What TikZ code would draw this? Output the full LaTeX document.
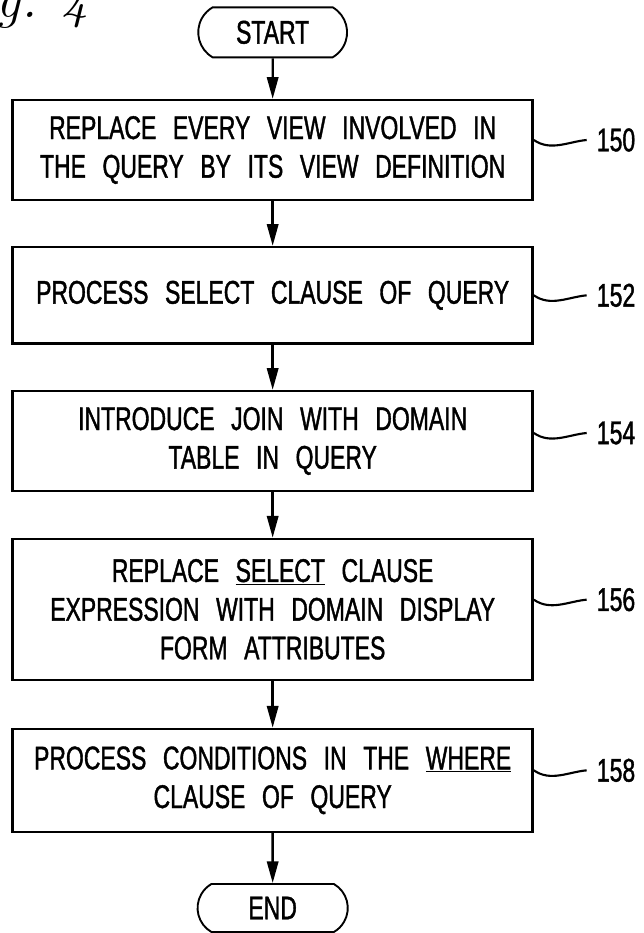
\documentclass[tikz,border=0pt]{standalone}
\usepackage{fontspec}
\newfontfamily\flowfam{Liberation Sans}[FakeStretch=0.7,FakeBold=1.2,WordSpace=2.6]
\newcommand{\flowfont}{\flowfam\fontsize{28}{33}\selectfont}
\usetikzlibrary{arrows.meta,shapes.misc}

\begin{document}
\begin{tikzpicture}[
		terminal/.style={rounded rectangle, rounded rectangle arc length=120, draw, line width=1.6pt, minimum width=4.7cm, minimum height=1.5cm, font=\flowfont},
		stepbox/.style={rectangle, draw, line width=2pt, minimum width=15.6cm, align=center, font=\flowfont},
		refnum/.style={anchor=west, inner sep=0pt, font=\flowfont},
		flow/.style={-{Triangle[length=0.65cm,width=0.34cm]}, line width=2pt},
		squiggle/.style={line width=1.8pt}
	]
			\useasboundingbox (0,0) rectangle (19.32,27.99);
			
			% figure number
			\node[anchor=base west, inner sep=0pt, font=\fontsize{46}{46}\selectfont\itshape] (fignum) at (-0.1,27.45) {g.\hspace{0.45em}4};
			
			% start
			\node[terminal] (start) at (8.18,27.02) {START};
			
			% replace views
			\node[stepbox, minimum height=3cm] (b1) at (8.18,23.49) {REPLACE EVERY VIEW INVOLVED IN\\THE QUERY BY ITS VIEW DEFINITION};
			\node[refnum] (n150) at (17.9,23.79) {150};
			
			% select clause
			\node[stepbox, minimum height=2.9cm] (b2) at (8.18,19.13) {PROCESS SELECT CLAUSE OF QUERY};
			\node[refnum] (n152) at (17.9,19.13) {152};
			
			% join with domain table
			\node[stepbox, minimum height=3cm] (b3) at (8.18,14.76) {INTRODUCE JOIN WITH DOMAIN\\TABLE IN QUERY};
			\node[refnum] (n154) at (17.9,15.0) {154};
			
			% display form attributes
			\node[stepbox, minimum height=4.23cm] (b4) at (8.18,9.71) {REPLACE \underline{SELECT} CLAUSE\\EXPRESSION WITH DOMAIN DISPLAY\\FORM ATTRIBUTES};
			\node[refnum] (n156) at (17.9,10.0) {156};
			
			% where clause
			\node[stepbox, minimum height=3.09cm] (b5) at (8.18,4.58) {PROCESS CONDITIONS IN THE \underline{WHERE}\\CLAUSE OF QUERY};
			\node[refnum] (n158) at (17.9,4.88) {158};
			
			% end
			\node[terminal, minimum width=4.74cm, minimum height=1.44cm] (end) at (8.18,0.75) {END};
			
			% arrows
			\draw[flow] (start) -- (b1);
			\draw[flow] (b1) -- (b2);
			\draw[flow] (b2) -- (b3);
			\draw[flow] (b3) -- (b4);
			\draw[flow] (b4) -- (b5);
			\draw[flow] (b5) -- (end);
			
			% reference numerals
			\foreach \blk/\num in {b1/n150, b2/n152, b3/n154, b4/n156, b5/n158}
				\draw[squiggle] (\blk.east |- \num) .. controls +(0.5,-0.35) and +(-0.55,-0.05) .. ([xshift=-0.3cm]\num.west);
		\end{tikzpicture}
\end{document}
